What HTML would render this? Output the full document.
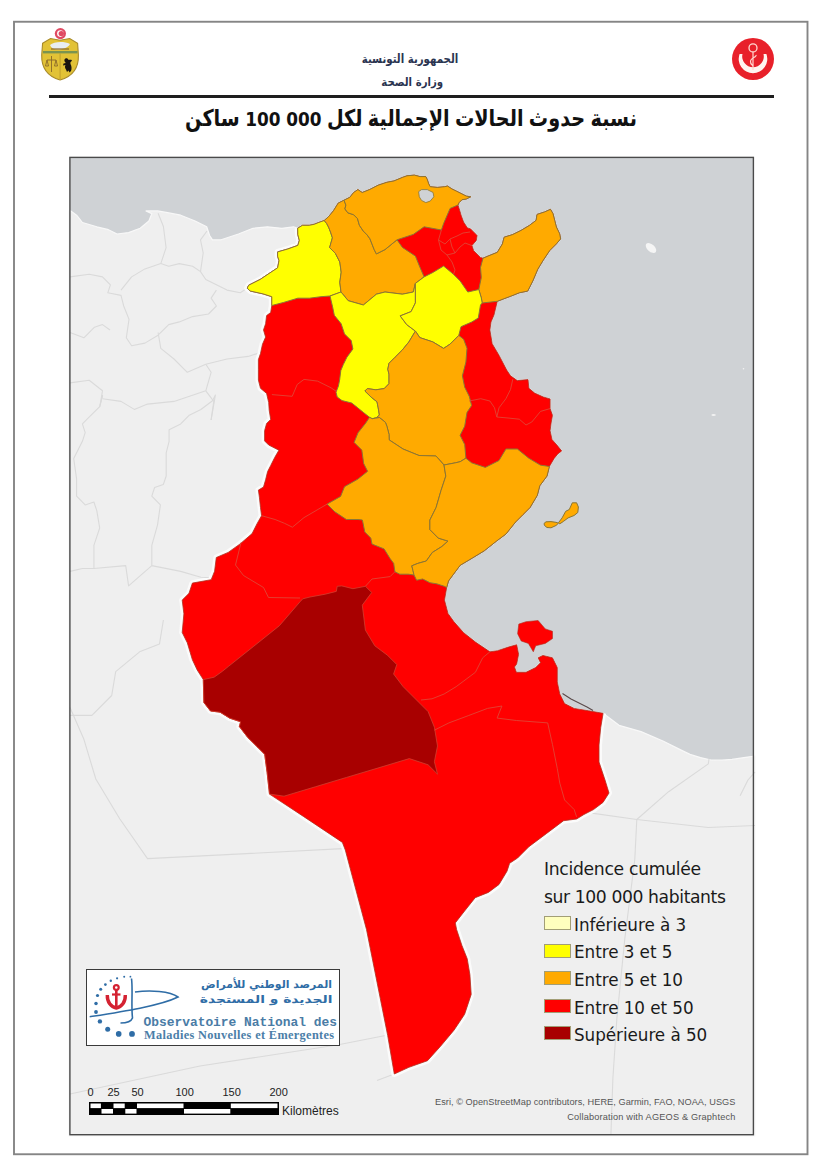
<!DOCTYPE html>
<html lang="fr"><head><meta charset="utf-8"><title>Tunisie - incidence cumulée</title>
<style>
html,body{margin:0;padding:0;background:#fff;}
body{width:830px;height:1173px;position:relative;overflow:hidden;font-family:"Liberation Sans","DejaVu Sans",sans-serif;}
.abs{position:absolute;white-space:nowrap;}
.ar{font-family:"DejaVu Sans",sans-serif;direction:rtl;}
#frame{position:absolute;left:14px;top:22px;width:791px;height:1130px;border:2px solid #7b7b7b;}
#hline{position:absolute;left:49px;top:94.8px;width:724.6px;height:2.8px;background:#1e1e1e;}
.leg{position:absolute;left:574px;font-family:"DejaVu Sans",sans-serif;font-size:16.8px;color:#1a1a1a;letter-spacing:-0.05px;}
.sw{position:absolute;left:544px;width:24.5px;height:12px;border:1px solid #a29e76;}
</style></head>
<body>
<svg width="830" height="1173" style="position:absolute;left:0;top:0">
<rect x="14" y="21.75" width="793.5" height="1132.5" fill="none" stroke="#858585" stroke-width="1.9"/>
<rect x="70" y="157.5" width="684" height="977.5" fill="#cfd2d5"/>
<polygon points="69.0,210.9 70.8,210.9 76.6,215.2 82.4,222.5 96.8,226.8 108.4,229.7 117.1,234.0 128.6,232.6 140.2,228.3 148.9,221.0 151.8,213.8 146.0,210.9 157.5,210.9 166.2,212.4 180.7,215.2 195.1,221.0 206.7,226.8 209.6,235.5 212.5,239.8 221.2,239.8 238.5,234.0 253.0,228.3 267.4,226.8 281.9,228.3 293.5,226.8 297.7,228.2 302.5,225.3 309.3,225.3 314.1,224.3 318.9,222.4 324.2,220.5 328.6,216.6 333.4,210.8 338.2,203.1 344.0,200.2 349.8,197.3 353.6,192.5 357.9,189.6 362.2,192.5 369.5,189.6 378.1,185.2 386.8,182.3 394.0,180.9 402.7,177.3 407.0,175.8 414.3,175.1 420.1,176.6 425.8,176.6 427.3,179.5 428.7,183.8 430.2,186.7 437.4,187.4 444.6,186.7 447.5,186.0 451.9,188.9 456.2,191.0 462.0,193.9 466.3,196.1 470.7,196.8 466.3,199.0 462.0,199.7 459.1,202.6 458.0,205.0 460.2,211.9 461.0,214.9 463.6,222.0 467.5,227.9 470.4,228.7 476.1,234.4 477.1,235.5 476.3,240.5 472.0,245.6 473.7,250.7 480.5,257.4 483.0,258.2 488.9,255.7 497.3,252.3 502.4,243.9 504.1,237.2 512.5,234.6 521.0,230.4 529.4,225.4 536.1,220.3 537.0,214.4 544.6,211.9 550.5,209.3 553.0,213.6 554.7,220.3 556.4,227.0 559.7,233.8 560.6,238.9 556.4,243.9 549.6,250.7 542.9,260.8 537.8,269.2 532.8,281.0 527.7,291.1 519.3,292.8 510.8,296.2 504.1,298.7 497.3,301.3 494.0,315.0 491.0,322.0 489.9,330.0 492.2,343.7 499.0,355.2 506.7,370.0 510.6,375.8 517.3,380.6 528.0,379.6 528.9,388.3 534.7,393.1 543.4,397.0 550.1,398.9 550.1,408.6 552.5,415.3 551.1,423.0 550.1,430.7 552.0,439.4 557.8,446.1 561.7,451.0 557.8,453.9 554.0,458.7 549.4,466.5 547.0,476.1 539.8,485.8 537.3,495.4 530.1,507.5 522.9,514.7 515.7,521.9 506.0,534.0 496.4,541.2 484.3,550.8 472.3,558.1 460.2,565.3 453.0,574.9 448.5,581.0 446.7,587.5 444.5,600.1 448.0,613.4 454.0,621.8 463.7,632.7 475.8,642.3 489.9,651.8 497.5,650.7 508.3,647.1 516.7,644.7 518.6,654.3 516.7,664.0 514.5,667.0 516.4,672.3 526.0,672.3 535.7,667.5 540.5,662.7 538.1,657.8 542.9,655.4 552.5,657.8 557.3,667.5 557.3,681.9 559.8,694.0 564.6,703.6 574.2,708.4 588.7,710.8 603.1,713.3 619.0,725.3 641.0,731.6 662.9,741.0 681.7,750.4 690.0,754.4 700.5,757.6 711.0,760.0 722.0,760.2 732.0,759.4 744.0,757.6 755.0,756.0 755.0,1136.0 69.0,1136.0" fill="#efefef" stroke="#f8f8f8" stroke-width="1.2" stroke-linejoin="round" />
<polyline points="158.1,213.3 163.4,226.5 166.1,247.7 160.8,263.6 168.7,266.3 179.3,263.6 192.6,266.3 200.5,271.6 205.8,279.5 216.4,284.8 227.0,290.1 240.3,292.8 248.2,287.5 262.0,289.0" fill="none" stroke="#dadada" stroke-width="1.1" stroke-linejoin="round" />
<polyline points="200.5,271.6 203.2,253.0 200.5,239.8 207.0,231.0" fill="none" stroke="#dadada" stroke-width="1.1" stroke-linejoin="round" />
<polyline points="70.0,276.9 89.2,274.2 102.5,276.9 110.4,284.8 107.8,292.8 121.0,295.4 123.7,306.0 129.0,319.3 126.3,337.8 131.6,345.8 144.9,343.1 158.1,335.2 168.7,324.6 179.3,321.9 192.6,316.6 208.5,314.0 216.4,306.0 211.1,298.1 216.4,290.1" fill="none" stroke="#dadada" stroke-width="1.1" stroke-linejoin="round" />
<polyline points="121.0,290.1 131.6,276.9 144.9,268.9 160.8,263.6" fill="none" stroke="#dadada" stroke-width="1.1" stroke-linejoin="round" />
<polyline points="158.1,332.5 160.8,348.4 174.0,359.0 187.3,372.3 205.8,364.3 227.0,359.0 248.2,356.4 262.0,352.0" fill="none" stroke="#dadada" stroke-width="1.1" stroke-linejoin="round" />
<polyline points="70.0,332.5 83.9,337.8 94.5,327.2 102.5,324.6 110.0,330.0" fill="none" stroke="#dadada" stroke-width="1.1" stroke-linejoin="round" />
<polyline points="70.0,382.9 89.2,380.2 102.5,390.8 99.8,406.7 102.6,395.0" fill="none" stroke="#dadada" stroke-width="1.1" stroke-linejoin="round" />
<polyline points="102.5,398.8 121.0,401.4 134.3,409.4 147.5,404.1 174.0,401.4 205.8,390.8 211.1,372.3 205.8,364.3" fill="none" stroke="#dadada" stroke-width="1.1" stroke-linejoin="round" />
<polyline points="205.8,390.8 213.8,401.4 211.1,420.0" fill="none" stroke="#dadada" stroke-width="1.1" stroke-linejoin="round" />
<polyline points="102.6,395.0 99.7,406.6 88.1,418.1 82.4,423.9 85.2,432.6 82.4,441.3 73.7,458.6 76.6,478.9 76.6,496.2 85.2,504.9 93.9,502.0 96.8,510.7 99.7,528.0 93.9,545.4 93.9,568.5 82.4,568.5 70.0,571.4" fill="none" stroke="#dadada" stroke-width="1.1" stroke-linejoin="round" />
<polyline points="93.9,568.5 125.7,565.6 128.6,585.9 151.8,565.6 180.7,571.4 200.9,577.2 215.0,578.0" fill="none" stroke="#dadada" stroke-width="1.1" stroke-linejoin="round" />
<polyline points="151.8,565.6 151.8,545.4 157.5,525.1 160.4,504.9 151.8,496.2 154.6,487.5 163.3,484.6 166.2,476.0 166.2,452.8 169.1,441.3 169.1,429.7 180.7,423.9 189.3,415.2 200.9,409.5 212.5,400.8 215.4,395.0 211.1,420.0" fill="none" stroke="#dadada" stroke-width="1.1" stroke-linejoin="round" />
<polyline points="70.0,707.5 83.9,739.3 95.8,779.0 119.7,818.8 147.5,858.6 227.0,854.6 342.3,848.6" fill="none" stroke="#dadada" stroke-width="1.1" stroke-linejoin="round" />
<polyline points="163.4,620.0 159.5,643.9 139.6,651.8 115.7,671.7 111.7,695.5 91.9,715.4 70.0,715.4" fill="none" stroke="#dadada" stroke-width="1.1" stroke-linejoin="round" />
<polyline points="70.0,1094.0 200.0,1066.0 338.4,1044.8 388.0,1035.0" fill="none" stroke="#dadada" stroke-width="1.1" stroke-linejoin="round" />
<polyline points="377.0,1080.6 394.3,1074.0" fill="none" stroke="#dadada" stroke-width="1.1" stroke-linejoin="round" />
<polyline points="581.1,811.6 636.8,819.5 708.3,827.5 755.0,825.5" fill="none" stroke="#dadada" stroke-width="1.1" stroke-linejoin="round" />
<polyline points="636.8,819.5 634.8,859.3 624.8,938.8 616.9,1018.3 612.9,1078.0 610.9,1135.0" fill="none" stroke="#dadada" stroke-width="1.1" stroke-linejoin="round" />
<polyline points="636.8,819.5 668.6,791.7 708.3,763.9 709.0,759.0" fill="none" stroke="#dadada" stroke-width="1.1" stroke-linejoin="round" />
<polyline points="740.1,795.7 748.1,779.8 755.0,772.0" fill="none" stroke="#dadada" stroke-width="1.1" stroke-linejoin="round" />
<polyline points="603.1,713.3 600.7,727.7 599.0,745.0 599.0,762.0 605.0,780.0 609.0,793.0 603.0,802.4 593.5,809.6 583.9,814.5 576.6,819.0 563.6,820.7 546.3,833.7 528.9,846.7 517.6,858.0 509.6,863.3 507.0,871.2 499.0,884.5 488.4,892.4 475.2,897.7 464.6,911.0 455.3,922.9 456.6,929.5 461.9,945.4 467.2,958.7 469.9,974.6 471.2,994.4 464.6,1014.3 454.0,1030.2 440.7,1046.1 427.5,1060.7 408.9,1067.3 394.3,1074.0 387.7,1035.5 377.1,982.5 366.5,929.5 355.9,889.8 345.3,850.0 342.4,842.4 303.4,816.4 269.5,794.1 267.1,772.4 264.7,754.3 257.5,747.1 247.8,737.5 239.4,726.6 240.6,721.8 229.8,718.2 220.1,712.2 210.5,711.0 203.9,702.5 203.3,679.6 197.2,670.0 192.4,659.8 187.3,642.8 182.2,632.5 183.9,613.8 182.2,600.1 189.0,593.3 192.4,583.1 211.2,579.7 214.6,571.2 216.3,557.5 228.2,552.4 240.1,543.9 252.1,533.6 257.2,523.4 261.6,515.7 260.5,507.5 259.4,497.2 258.4,490.1 263.5,487.0 265.6,479.8 267.6,471.6 270.7,465.5 274.8,457.3 278.9,450.2 268.7,445.0 264.6,440.9 264.6,430.7 266.6,423.5 270.7,419.4 269.2,410.2 268.7,402.6 266.6,393.4 260.5,388.3 258.4,380.1 258.4,369.8 258.4,359.6 260.5,353.5 262.5,344.2 265.6,337.1 263.5,329.9 265.6,323.8 266.6,315.6 270.7,312.5 271.8,305.5 271.8,296.7 263.1,293.9 250.1,291.0 247.2,288.1 248.7,285.2 260.2,279.4 268.9,273.6 277.6,267.8 279.0,260.6 277.6,256.3 277.6,251.9 287.7,249.0 297.8,245.4 299.3,240.4 297.8,234.6 297.7,228.2" fill="none" stroke="#fbfbfb" stroke-width="6" stroke-linejoin="round" />
<polygon points="297.7,228.2 302.5,225.3 309.3,225.3 314.1,224.3 318.9,222.4 324.2,220.5 328.6,216.6 333.4,210.8 338.2,203.1 344.0,200.2 349.8,197.3 353.6,192.5 357.9,189.6 362.2,192.5 369.5,189.6 378.1,185.2 386.8,182.3 394.0,180.9 402.7,177.3 407.0,175.8 414.3,175.1 420.1,176.6 425.8,176.6 427.3,179.5 428.7,183.8 430.2,186.7 437.4,187.4 444.6,186.7 447.5,186.0 451.9,188.9 456.2,191.0 462.0,193.9 466.3,196.1 470.7,196.8 466.3,199.0 462.0,199.7 459.1,202.6 458.0,205.0 460.2,211.9 461.0,214.9 463.6,222.0 467.5,227.9 470.4,228.7 476.1,234.4 477.1,235.5 476.3,240.5 472.0,245.6 473.7,250.7 480.5,257.4 483.0,258.2 488.9,255.7 497.3,252.3 502.4,243.9 504.1,237.2 512.5,234.6 521.0,230.4 529.4,225.4 536.1,220.3 537.0,214.4 544.6,211.9 550.5,209.3 553.0,213.6 554.7,220.3 556.4,227.0 559.7,233.8 560.6,238.9 556.4,243.9 549.6,250.7 542.9,260.8 537.8,269.2 532.8,281.0 527.7,291.1 519.3,292.8 510.8,296.2 504.1,298.7 497.3,301.3 494.0,315.0 491.0,322.0 489.9,330.0 492.2,343.7 499.0,355.2 506.7,370.0 510.6,375.8 517.3,380.6 528.0,379.6 528.9,388.3 534.7,393.1 543.4,397.0 550.1,398.9 550.1,408.6 552.5,415.3 551.1,423.0 550.1,430.7 552.0,439.4 557.8,446.1 561.7,451.0 557.8,453.9 554.0,458.7 549.4,466.5 547.0,476.1 539.8,485.8 537.3,495.4 530.1,507.5 522.9,514.7 515.7,521.9 506.0,534.0 496.4,541.2 484.3,550.8 472.3,558.1 460.2,565.3 453.0,574.9 448.5,581.0 446.7,587.5 444.5,600.1 448.0,613.4 454.0,621.8 463.7,632.7 475.8,642.3 489.9,651.8 497.5,650.7 508.3,647.1 516.7,644.7 518.6,654.3 516.7,664.0 514.5,667.0 516.4,672.3 526.0,672.3 535.7,667.5 540.5,662.7 538.1,657.8 542.9,655.4 552.5,657.8 557.3,667.5 557.3,681.9 559.8,694.0 564.6,703.6 574.2,708.4 588.7,710.8 603.1,713.3 600.7,727.7 599.0,745.0 599.0,762.0 605.0,780.0 609.0,793.0 603.0,802.4 593.5,809.6 583.9,814.5 576.6,819.0 563.6,820.7 546.3,833.7 528.9,846.7 517.6,858.0 509.6,863.3 507.0,871.2 499.0,884.5 488.4,892.4 475.2,897.7 464.6,911.0 455.3,922.9 456.6,929.5 461.9,945.4 467.2,958.7 469.9,974.6 471.2,994.4 464.6,1014.3 454.0,1030.2 440.7,1046.1 427.5,1060.7 408.9,1067.3 394.3,1074.0 387.7,1035.5 377.1,982.5 366.5,929.5 355.9,889.8 345.3,850.0 342.4,842.4 303.4,816.4 269.5,794.1 267.1,772.4 264.7,754.3 257.5,747.1 247.8,737.5 239.4,726.6 240.6,721.8 229.8,718.2 220.1,712.2 210.5,711.0 203.9,702.5 203.3,679.6 197.2,670.0 192.4,659.8 187.3,642.8 182.2,632.5 183.9,613.8 182.2,600.1 189.0,593.3 192.4,583.1 211.2,579.7 214.6,571.2 216.3,557.5 228.2,552.4 240.1,543.9 252.1,533.6 257.2,523.4 261.6,515.7 260.5,507.5 259.4,497.2 258.4,490.1 263.5,487.0 265.6,479.8 267.6,471.6 270.7,465.5 274.8,457.3 278.9,450.2 268.7,445.0 264.6,440.9 264.6,430.7 266.6,423.5 270.7,419.4 269.2,410.2 268.7,402.6 266.6,393.4 260.5,388.3 258.4,380.1 258.4,369.8 258.4,359.6 260.5,353.5 262.5,344.2 265.6,337.1 263.5,329.9 265.6,323.8 266.6,315.6 270.7,312.5 271.8,305.5 271.8,296.7 263.1,293.9 250.1,291.0 247.2,288.1 248.7,285.2 260.2,279.4 268.9,273.6 277.6,267.8 279.0,260.6 277.6,256.3 277.6,251.9 287.7,249.0 297.8,245.4 299.3,240.4 297.8,234.6 297.7,228.2" fill="#ff0000" stroke="#b03020" stroke-width="0.8" stroke-linejoin="round" />
<polygon points="297.7,228.2 302.5,225.3 309.3,225.3 314.1,224.3 318.9,222.4 324.2,220.5 326.6,223.4 328.6,227.2 330.5,232.0 332.4,237.8 329.6,247.6 335.4,253.4 339.8,262.0 341.2,272.2 339.8,282.3 341.0,292.0 330.0,296.0 321.0,296.7 309.4,298.2 297.8,298.2 283.4,302.5 271.8,305.5 271.8,296.7 263.1,293.9 250.1,291.0 247.2,288.1 248.7,285.2 260.2,279.4 268.9,273.6 277.6,267.8 279.0,260.6 277.6,256.3 277.6,251.9 287.7,249.0 297.8,245.4 299.3,240.4 297.8,234.6 297.7,228.2" fill="#ffff00" stroke="#8a7636" stroke-width="1.0" stroke-linejoin="round" />
<polygon points="324.2,220.5 328.6,216.6 333.4,210.8 338.2,203.1 344.0,200.2 345.9,205.1 344.9,208.9 347.8,212.8 353.6,214.7 357.5,218.6 359.4,225.3 363.3,231.1 367.1,234.9 369.9,238.7 374.2,249.6 376.4,253.9 385.0,249.6 397.0,239.8 402.4,247.4 415.4,256.1 419.8,266.9 424.1,276.9 415.4,283.4 413.3,292.0 402.4,294.2 385.0,292.0 376.4,294.2 363.4,305.0 348.2,300.7 341.0,292.0 339.8,282.3 341.2,272.2 339.8,262.0 335.4,253.4 329.6,247.6 332.4,237.8 330.5,232.0 328.6,227.2 326.6,223.4 324.2,220.5" fill="#ffaa00" stroke="#8a7636" stroke-width="1.0" stroke-linejoin="round" />
<polygon points="344.0,200.2 349.8,197.3 353.6,192.5 357.9,189.6 362.2,192.5 369.5,189.6 378.1,185.2 386.8,182.3 394.0,180.9 402.7,177.3 407.0,175.8 414.3,175.1 420.1,176.6 425.8,176.6 427.3,179.5 428.7,183.8 430.2,186.7 437.4,187.4 444.6,186.7 447.5,186.0 451.9,188.9 456.2,191.0 462.0,193.9 466.3,196.1 470.7,196.8 466.3,199.0 462.0,199.7 459.1,202.6 458.0,205.0 450.1,208.4 443.6,223.6 441.4,230.0 424.1,226.8 413.3,234.4 397.0,239.8 385.0,249.6 376.4,253.9 374.2,249.6 369.9,238.7 367.1,234.9 363.3,231.1 359.4,225.3 357.5,218.6 353.6,214.7 347.8,212.8 344.9,208.9 345.9,205.1 344.0,200.2" fill="#ffaa00" stroke="#8a7636" stroke-width="1.0" stroke-linejoin="round" />
<polygon points="483.0,258.2 488.9,255.7 497.3,252.3 502.4,243.9 504.1,237.2 512.5,234.6 521.0,230.4 529.4,225.4 536.1,220.3 537.0,214.4 544.6,211.9 550.5,209.3 553.0,213.6 554.7,220.3 556.4,227.0 559.7,233.8 560.6,238.9 556.4,243.9 549.6,250.7 542.9,260.8 537.8,269.2 532.8,281.0 527.7,291.1 519.3,292.8 510.8,296.2 504.1,298.7 497.3,301.3 482.2,303.0 481.3,297.9 478.8,289.5 481.3,277.6 480.5,267.5 483.0,258.2" fill="#ffaa00" stroke="#8a7636" stroke-width="1.0" stroke-linejoin="round" />
<polygon points="330.0,296.0 341.0,292.0 348.2,300.7 363.4,305.0 376.4,294.2 385.0,292.0 402.4,294.2 413.3,292.0 415.4,283.4 415.4,292.0 415.4,302.9 411.1,311.6 400.2,315.9 406.7,324.6 415.4,331.1 408.9,341.9 402.3,350.0 395.1,357.2 389.0,363.3 387.8,369.3 389.0,374.1 389.0,383.7 384.2,388.6 375.8,389.8 367.3,388.6 364.9,391.0 371.0,397.0 377.0,401.8 378.2,407.8 379.4,415.1 375.8,418.1 372.2,418.7 369.8,417.5 363.7,412.7 357.7,407.8 351.7,403.0 342.0,400.6 337.2,397.0 336.0,392.2 338.4,386.1 339.6,380.1 340.8,370.5 343.3,364.5 346.9,357.2 352.9,349.0 351.2,340.6 344.5,333.9 341.1,323.7 334.3,315.3 332.6,306.9 330.0,296.0" fill="#ffff00" stroke="#8a7636" stroke-width="1.0" stroke-linejoin="round" />
<polygon points="424.1,276.9 432.8,272.5 443.6,266.0 453.5,274.3 460.2,281.0 467.8,292.0 478.8,289.5 481.3,297.9 482.2,303.0 480.5,305.0 478.3,318.0 471.8,322.0 461.0,326.7 458.8,335.4 450.1,344.1 443.6,348.4 432.8,341.9 419.8,337.6 415.4,331.1 406.7,324.6 400.2,315.9 411.1,311.6 415.4,302.9 415.4,292.0 415.4,283.4" fill="#ffff00" stroke="#8a7636" stroke-width="1.0" stroke-linejoin="round" />
<polygon points="415.4,331.1 408.9,341.9 402.3,350.0 395.1,357.2 389.0,363.3 387.8,369.3 389.0,374.1 389.0,383.7 384.2,388.6 375.8,389.8 367.3,388.6 364.9,391.0 371.0,397.0 377.0,401.8 378.2,407.8 379.4,415.1 375.8,418.1 372.2,418.7 379.4,417.5 385.4,422.3 386.9,426.2 389.0,434.3 389.2,439.9 403.0,449.0 419.0,455.5 436.0,456.0 444.0,465.0 455.5,462.8 460.2,461.7 465.9,458.2 464.7,444.5 460.1,435.3 464.7,426.2 467.0,412.4 471.6,405.5 469.3,396.4 464.7,387.2 462.4,375.8 465.9,362.1 467.0,348.3 463.6,339.2 458.8,335.4 450.1,344.1 443.6,348.4 432.8,341.9 419.8,337.6 415.4,331.1" fill="#ffaa00" stroke="#8a7636" stroke-width="1.0" stroke-linejoin="round" />
<polygon points="375.8,418.1 379.4,417.5 385.4,422.3 386.9,426.2 389.0,434.3 389.2,439.9 403.0,449.0 419.0,455.5 436.0,456.0 444.0,465.0 445.8,476.1 441.0,490.6 436.1,507.5 429.9,520.0 429.9,529.6 438.3,538.1 448.0,541.1 441.9,546.5 432.3,552.5 426.3,561.0 417.8,563.4 411.8,565.8 413.0,570.6 414.0,575.0 408.2,574.2 399.8,574.2 394.9,571.8 393.7,563.4 390.1,558.6 384.1,548.9 372.0,544.1 370.8,538.1 364.8,532.0 362.4,520.0 358.0,519.5 346.4,519.5 334.8,511.8 327.1,504.1 340.6,496.4 344.5,486.7 358.0,479.0 367.6,471.3 363.7,463.6 361.8,450.1 354.1,442.4 358.0,432.8 365.7,423.1 369.5,417.3 372.2,418.7" fill="#ffaa00" stroke="#8a7636" stroke-width="1.0" stroke-linejoin="round" />
<polygon points="444.0,465.0 455.5,462.8 460.2,461.7 465.9,458.2 471.6,462.8 485.3,467.4 499.0,460.5 505.9,449.0 517.4,449.0 528.8,458.2 540.3,465.1 549.4,466.5 547.0,476.1 539.8,485.8 537.3,495.4 530.1,507.5 522.9,514.7 515.7,521.9 506.0,534.0 496.4,541.2 484.3,550.8 472.3,558.1 460.2,565.3 453.0,574.9 448.5,581.0 446.7,587.5 444.3,586.3 437.1,583.9 429.9,582.7 422.7,579.0 416.6,580.2 414.0,575.0 413.0,570.6 411.8,565.8 417.8,563.4 426.3,561.0 432.3,552.5 441.9,546.5 448.0,541.1 438.3,538.1 429.9,529.6 429.9,520.0 436.1,507.5 441.0,490.6 445.8,476.1 444.0,465.0" fill="#ffaa00" stroke="#8a7636" stroke-width="1.0" stroke-linejoin="round" />
<polygon points="337.2,586.3 341.8,585.9 352.9,588.7 365.4,586.3 371.7,592.5 362.3,605.1 365.4,630.1 374.8,645.8 387.4,655.2 396.8,664.6 393.6,674.0 403.0,686.5 418.7,702.2 428.1,711.6 434.4,727.2 437.5,746.0 434.4,761.7 437.5,774.2 428.1,764.8 409.3,758.6 378.0,768.0 346.6,777.4 315.3,786.8 284.0,796.2 269.5,794.1 267.1,772.4 264.7,754.3 257.5,747.1 247.8,737.5 239.4,726.6 240.6,721.8 229.8,718.2 220.1,712.2 210.5,711.0 203.9,702.5 203.3,679.6 214.1,677.2 222.5,671.2 228.2,666.6 253.8,646.2 279.4,625.7 300.0,601.8 302.8,598.8 310.0,597.0 325.2,594.2 336.3,591.4" fill="#a80000" stroke="#d04030" stroke-width="0.8" stroke-linejoin="round" />
<polyline points="271.9,394.6 292.2,396.3 297.2,384.5 304.0,379.4 317.5,381.1 331.0,387.8 336.5,391.5" fill="none" stroke="#e04535" stroke-width="0.9" stroke-linejoin="round" />
<polyline points="261.6,515.7 275.1,519.5 284.7,523.4 292.4,527.2 304.0,517.6 327.1,504.1" fill="none" stroke="#e04535" stroke-width="0.9" stroke-linejoin="round" />
<polyline points="241.0,542.5 235.5,565.0 243.5,575.5 263.5,587.5 268.5,597.5 300.0,598.0" fill="none" stroke="#e04535" stroke-width="0.9" stroke-linejoin="round" />
<polyline points="365.4,586.3 372.0,579.0 390.1,576.6 394.9,571.8" fill="none" stroke="#e04535" stroke-width="0.9" stroke-linejoin="round" />
<polyline points="489.9,651.8 482.7,657.8 475.4,672.3 456.1,686.7 444.1,694.0 432.0,698.8 421.0,700.0" fill="none" stroke="#e04535" stroke-width="0.9" stroke-linejoin="round" />
<polyline points="434.5,730.1 448.9,722.9 468.2,715.7 487.5,708.4 501.9,706.0 497.1,718.1 516.4,720.5 547.7,722.9 552.5,744.6 557.3,768.7 559.8,783.1 564.6,800.0 574.2,809.6 576.6,816.9" fill="none" stroke="#e04535" stroke-width="0.9" stroke-linejoin="round" />
<polyline points="469.3,401.0 480.7,398.7 489.9,401.0 494.5,407.8 496.8,417.0" fill="none" stroke="#e04535" stroke-width="0.9" stroke-linejoin="round" />
<polyline points="512.8,379.2 510.5,389.5 505.9,398.7 499.0,407.8 496.8,417.0" fill="none" stroke="#e04535" stroke-width="0.9" stroke-linejoin="round" />
<polyline points="496.8,417.0 508.0,418.0 519.3,419.2 526.0,425.0 531.8,422.0 540.5,411.4 550.1,408.6" fill="none" stroke="#e04535" stroke-width="0.9" stroke-linejoin="round" />
<polyline points="441.4,230.0 438.5,240.0 445.0,244.0 450.0,239.0 457.0,236.0 463.0,233.0 470.0,232.0" fill="none" stroke="#e04535" stroke-width="0.9" stroke-linejoin="round" />
<polyline points="438.5,240.0 441.0,250.0 447.0,255.0 455.0,253.0 460.0,247.0 465.0,243.0 472.0,245.6" fill="none" stroke="#e04535" stroke-width="0.9" stroke-linejoin="round" />
<polyline points="447.0,255.0 452.0,262.0 455.0,270.0 453.5,274.3" fill="none" stroke="#e04535" stroke-width="0.9" stroke-linejoin="round" />
<polyline points="450.0,239.0 452.0,247.0 455.0,253.0" fill="none" stroke="#e04535" stroke-width="0.9" stroke-linejoin="round" />
<polygon points="558.5,522.7 562.1,517.9 565.7,511.3 569.3,509.5 572.3,502.8 576.6,502.8 578.4,507.0 577.8,512.5 574.1,515.5 568.1,517.9 563.3,521.5 559.7,523.9" fill="#ffaa00" stroke="#8a7636" stroke-width="1.0" stroke-linejoin="round" />
<polygon points="544.0,523.5 546.0,521.8 551.0,521.6 556.0,522.3 558.5,523.2 556.0,525.5 551.0,527.8 547.0,527.5 544.5,525.5" fill="#ffaa00" stroke="#8a7636" stroke-width="1.0" stroke-linejoin="round" />
<polygon points="518.8,624.1 526.0,621.7 538.1,620.5 545.3,628.9 552.5,631.3 552.5,638.6 545.3,643.4 535.7,645.8 533.3,651.8 528.4,643.4 521.2,641.0 517.6,633.7" fill="#ff0000" stroke="#b03020" stroke-width="0.6" stroke-linejoin="round" />
<polyline points="562.5,693.5 571.0,699.0 580.0,703.5 587.0,707.0 593.0,710.5" fill="none" stroke="#5a4a4a" stroke-width="1.1" stroke-linejoin="round" />
<polygon points="418.6,191.7 421.5,189.6 427.3,189.6 433.1,192.5 433.8,196.8 430.2,201.1 425.8,202.6 421.5,200.4 419.3,196.8" fill="#cfd2d5" stroke="#8a7636" stroke-width="0.8" stroke-linejoin="round" />
<ellipse cx="651" cy="248" rx="6.3" ry="3.6" transform="rotate(42 651 248)" fill="#f5f5f5"/>
<ellipse cx="713.6" cy="415" rx="2.2" ry="1" fill="#f2f2f2"/>
<circle cx="743.5" cy="368.7" r="0.8" fill="#f2f2f2"/>
<rect x="69.9" y="157.4" width="683.5" height="977.3" fill="none" stroke="#4a4a4a" stroke-width="1.4"/>
</svg>
<div id="hline"></div>
<!-- header text -->
<div class="abs ar" style="left:310px;top:51px;width:200px;text-align:center;font-size:12.5px;font-weight:bold;color:#2a3450;transform:scaleX(0.815);transform-origin:100px 0;">الجمهورية التونسية</div>
<div class="abs ar" style="left:311.5px;top:74.5px;width:200px;text-align:center;font-size:11.5px;font-weight:bold;color:#2a3450;transform:scaleX(0.885);transform-origin:102px 0;">وزارة الصحة</div>
<div class="abs ar" id="title" style="left:111px;top:105px;width:600px;transform:scaleX(0.837);transform-origin:300px 0;text-align:center;font-family:'Liberation Sans','DejaVu Sans',sans-serif;font-size:23px;font-weight:bold;color:#111;">نسبة حدوث الحالات الإجمالية لكل <span dir="ltr" style="unicode-bidi:isolate;font-family:'DejaVu Sans',sans-serif;font-size:20.2px;">100 000</span> ساكن</div>
<!-- legend -->
<div class="abs" style="left:544px;top:859px;font-family:'DejaVu Sans',sans-serif;font-size:17.2px;letter-spacing:-0.3px;color:#1a1a1a;">Incidence cumulée</div>
<div class="abs" style="left:544px;top:886.5px;font-family:'DejaVu Sans',sans-serif;font-size:17.2px;letter-spacing:-0.4px;color:#1a1a1a;">sur 100 000 habitants</div>
<div class="sw" style="top:916px;background:#ffffbe;"></div>
<div class="sw" style="top:943.5px;background:#ffff00;"></div>
<div class="sw" style="top:971px;background:#ffaa00;"></div>
<div class="sw" style="top:998.5px;background:#ff0000;"></div>
<div class="sw" style="top:1026px;background:#a80000;"></div>
<div class="leg" style="top:914.5px;">Inférieure à 3</div>
<div class="leg" style="top:942px;">Entre 3 et 5</div>
<div class="leg" style="top:970px;">Entre 5 et 10</div>
<div class="leg" style="top:997.8px;">Entre 10 et 50</div>
<div class="leg" style="top:1025px;">Supérieure à 50</div>
<!-- attribution -->
<div class="abs" style="right:94.5px;top:1097px;font-size:9.2px;color:#555;letter-spacing:0.05px;">Esri, © OpenStreetMap contributors, HERE, Garmin, FAO, NOAA, USGS</div>
<div class="abs" style="right:94.5px;top:1112px;font-size:9.2px;color:#555;letter-spacing:0.18px;">Collaboration with AGEOS &amp; Graphtech</div>

<!-- coat of arms -->
<svg width="60" height="70" viewBox="30 20 60 70" style="position:absolute;left:30px;top:20px">
 <circle cx="60.4" cy="33.6" r="5.6" fill="#e04a62"/>
 <circle cx="60.4" cy="33.6" r="3.3" fill="#fff"/>
 <circle cx="61.3" cy="33.6" r="2.7" fill="#e04a62"/>
 <path d="M42.6,43.3 L50.5,38.5 L60.1,40.3 L69.7,38.5 L77.6,43.3 L78.4,55 C78.8,68 72.5,76.5 60.1,80 C47.7,76.5 41.4,68 41.7,55 Z" fill="#e2c236" stroke="#a88a2a" stroke-width="1.1"/>
 <path d="M50,45 C54,41.5 64,41 70,44 C68,48 62,49.5 58,49.5 C54,49.5 51,48 50,45 Z" fill="#e8eef2"/>
 <path d="M51,49 L69,49" stroke="#8a6a30" stroke-width="1.2"/>
 <rect x="43" y="51" width="34.5" height="2.4" fill="#7a9450"/>
 <path d="M60.1,53.5 L60.1,79" stroke="#b8962a" stroke-width="0.8"/>
 <path d="M47,60 L56,60 M51.5,56 L51.5,72 M47,60 L45.5,66 L48.5,66 Z M56,60 L54.5,66 L57.5,66 Z" stroke="#8a6a2a" stroke-width="0.9" fill="none"/>
 <path d="M64.5,59.5 C65.5,57.5 68,57.8 68.3,59.8 C70,60 71.5,59 72,60.5 C71,62 70,62 70.5,64 C71.5,66 72,68.5 71,71 L69.5,72.5 L68.5,70.5 L67,72 L66,69.5 C65,68 64.5,66.5 65.5,65 L63,65.5 L63.5,63.5 L65.8,63 C65,62 64,61 64.5,59.5 Z" fill="#1a1410"/>
</svg>
<!-- health ministry logo -->
<svg width="50" height="50" viewBox="728 34 50 50" style="position:absolute;left:728px;top:34px">
 <circle cx="753" cy="59" r="21" fill="#e8202a"/>
 <path d="M739.6,53.9 A14.3,14.3 0 1 0 766.4,53.9 L763.5,53.9 A10.8,10.8 0 1 1 742.5,53.9 Z" fill="#fff4f0"/>
 <circle cx="753" cy="47.9" r="4" fill="none" stroke="#ffd8d0" stroke-width="1.3"/>
 <path d="M753,52 L753,70 M756,55 C757,57 751,58 750.5,61 C750,63.5 752,65 753,66" stroke="#ffd8d0" stroke-width="1.2" fill="none"/>
</svg>
<!-- ONMNE logo box -->
<div style="position:absolute;left:85.5px;top:969px;width:252.5px;height:74.5px;border:1.6px solid #3a3a3a;background:#fff;"></div>
<svg width="110" height="75" viewBox="86 969 110 75" style="position:absolute;left:86px;top:969px">
 <g fill="#2f6da6"><circle cx="130.4" cy="976.7" r="0.9"/><circle cx="124.2" cy="976.7" r="1.0"/><circle cx="117.1" cy="978.3" r="1.1"/><circle cx="110.8" cy="980.7" r="1.2"/><circle cx="105.4" cy="984.6" r="1.35"/><circle cx="100.7" cy="989.3" r="1.5"/><circle cx="97.5" cy="995.5" r="1.6"/><circle cx="96" cy="1003.4" r="1.75"/><circle cx="96" cy="1012" r="1.9"/><circle cx="99.9" cy="1021.4" r="2.2"/><circle cx="107.7" cy="1029.2" r="2.5"/><circle cx="118.7" cy="1033.9" r="2.8"/><circle cx="132" cy="1033.9" r="2.9"/></g>
 <path d="M89.7,1016.7 C120,1012 160,1006 178,997 C170,991 150,990 135,992" stroke="#2f6da6" stroke-width="1.6" fill="none"/>
 <path d="M131.5,978.5 C133,990 131,1005 132.5,1018 C131,1022 126,1023 120.5,1023" stroke="#2f6da6" stroke-width="1.6" fill="none"/>
 <g stroke="#d42232" fill="none" stroke-width="2">
  <circle cx="116.3" cy="987.5" r="2.4" stroke-width="2.2"/>
  <path d="M116.3,990 L116.3,1007.5" stroke-width="2.6"/>
  <path d="M107.3,995 C107,1002 111,1007 116.3,1008 C121.6,1007 125.6,1002 125.3,995" stroke-width="3.4"/>
  <path d="M112,994.5 L120.5,994.5" stroke-width="2.2"/>
 </g>
</svg>
<div class="abs ar" style="left:195px;top:977.5px;width:137px;text-align:right;font-size:11px;font-weight:bold;color:#2f6da6;transform:scaleX(0.99);transform-origin:135px 0;">المرصد الوطني للأمراض</div>
<div class="abs ar" style="left:195px;top:992.5px;width:137px;text-align:right;font-size:11px;font-weight:bold;color:#2f6da6;transform:scaleX(1.26);transform-origin:135px 0;">الجديدة و المستجدة</div>
<div class="abs" style="left:143.5px;top:1014.5px;font-family:'Liberation Mono',monospace;font-weight:bold;font-size:12.9px;letter-spacing:0px;color:#4a7ca6;">Observatoire National des</div>
<div class="abs" style="left:144px;top:1027.5px;font-family:'Liberation Serif',serif;font-weight:bold;font-size:12.3px;letter-spacing:0.35px;color:#4b7ea8;">Maladies Nouvelles et Émergentes</div>
<!-- scale bar -->
<svg width="200" height="20" viewBox="88 1101 200 20" style="position:absolute;left:88px;top:1101px">
 <rect x="89" y="1102" width="190" height="13" fill="#000"/>
 <g fill="#fff">
  <rect x="90.5" y="1103.5" width="10.4" height="4.6"/>
  <rect x="113.5" y="1103.5" width="11.2" height="4.6"/>
  <rect x="137" y="1103.5" width="46.5" height="4.6"/>
  <rect x="230.8" y="1103.5" width="46.7" height="4.6"/>
  <rect x="101.5" y="1109" width="11.5" height="4.6"/>
  <rect x="125.3" y="1109" width="11.2" height="4.6"/>
  <rect x="184" y="1109" width="46.3" height="4.6"/>
 </g>
</svg>
<div class="abs" style="left:87.5px;top:1086px;font-size:11px;color:#222;">0</div>
<div class="abs" style="left:107.5px;top:1086px;font-size:11px;color:#222;">25</div>
<div class="abs" style="left:131.5px;top:1086px;font-size:11px;color:#222;">50</div>
<div class="abs" style="left:175.5px;top:1086px;font-size:11px;color:#222;">100</div>
<div class="abs" style="left:222.5px;top:1086px;font-size:11px;color:#222;">150</div>
<div class="abs" style="left:269.5px;top:1086px;font-size:11px;color:#222;">200</div>
<div class="abs" style="left:282px;top:1104px;font-size:12px;color:#222;">Kilomètres</div>
</body></html>
